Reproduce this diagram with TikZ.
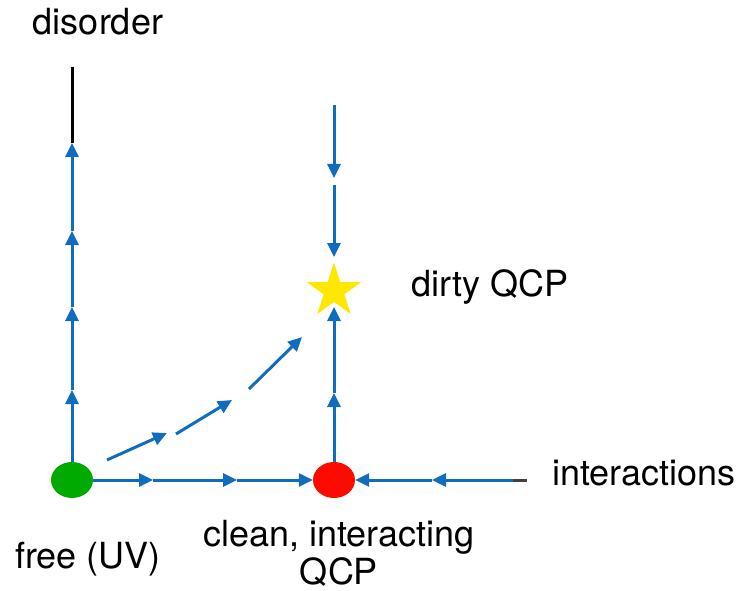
\documentclass[tikz,border=0pt]{standalone}
\usepackage{fontspec}
\setmainfont{TeX Gyre Heros}
\usetikzlibrary{arrows.meta,shapes.geometric}
\definecolor{flowblue}{RGB}{16,108,190}
\definecolor{freegreen}{RGB}{0,170,0}
\definecolor{qcpred}{RGB}{255,10,0}
\definecolor{stary}{RGB}{255,232,0}
\tikzset{
  flow/.style={draw=flowblue, line width=3pt, -{Triangle[length=14pt,width=13pt]}},
  axisend/.style={draw=black, line width=3pt},
  lbl/.style={font=\fontsize{36}{40}\selectfont, inner sep=0pt, anchor=base},
  fp/.style={ellipse, minimum width=42pt, minimum height=36pt, inner sep=0pt}
}
\begin{document}
\begin{tikzpicture}[x=1pt,y=-1pt]
\useasboundingbox (0,0) rectangle (745,591);
% fixed-point nodes
\node[fp, fill=freegreen] (free) at (72,480) {};
\node[fp, fill=qcpred] (clean) at (334,480) {};
% coordinates
\coordinate (ltop) at (72,67);
\coordinate (l1) at (72,390);
\coordinate (l2) at (72,307);
\coordinate (l3) at (72,231);
\coordinate (l3b) at (72,226);
\coordinate (l4) at (72,143);
\coordinate (b1) at (153,480);
\coordinate (b2) at (237,480);
\coordinate (rend) at (527,480);
\coordinate (rstart) at (513,480);
\coordinate (r1) at (432,480);
\coordinate (v1) at (334,393);
\coordinate (v2) at (334,307);
\coordinate (ttop) at (334,105);
\coordinate (t1) at (334,178);
\coordinate (t2s) at (334,185);
\coordinate (t2) at (334,257);
\coordinate (d0) at (107,460);
\coordinate (d1) at (167,433);
\coordinate (d2s) at (176,434);
\coordinate (d2) at (232,400);
\coordinate (d3s) at (249,389);
\coordinate (d3) at (302,337);
% disorder axis
\draw[axisend] (l4) -- (ltop);
\draw[axisend] (l3b) -- (l3);
\draw[flow] (free.north) -- (l1);
\draw[flow] (l1) -- (l2);
\draw[flow] (l2) -- (l3);
\draw[flow] (l3) -- (l4);
% interaction axis
\draw[flow] (free.east) -- (b1);
\draw[flow] (b1) -- (b2);
\draw[flow] (b2) -- (clean.west);
\draw[axisend, draw=black!75] (rstart) -- (rend);
\draw[flow] (rstart) -- (r1);
\draw[flow] (r1) -- (clean.east);
% vertical through clean QCP
\draw[flow] (clean.north) -- (v1);
\draw[flow] (v1) -- (v2);
\draw[flow] (ttop) -- (t1);
\draw[flow] (t2s) -- (t2);
% diagonal
\draw[flow] (d0) -- (d1);
\draw[flow] (d2s) -- (d2);
\draw[flow] (d3s) -- (d3);
% dirty QCP
\node[star, star points=5, star point ratio=2.618, minimum size=57pt, inner sep=0pt, fill=stary] (dirty) at (334,291) {};
% labels
\node[lbl] (tdis) at (98,35) {disorder};
\node[lbl] (tdirty) at (490,296) {dirty QCP};
\node[lbl] (tint) at (644,485) {interactions};
\node[lbl] (tfree) at (88,568) {free (UV)};
\node[lbl] (tclean) at (339,546) {clean, interacting};
\node[lbl] (tcleanb) at (339,584) {QCP};
\end{tikzpicture}
\end{document}
